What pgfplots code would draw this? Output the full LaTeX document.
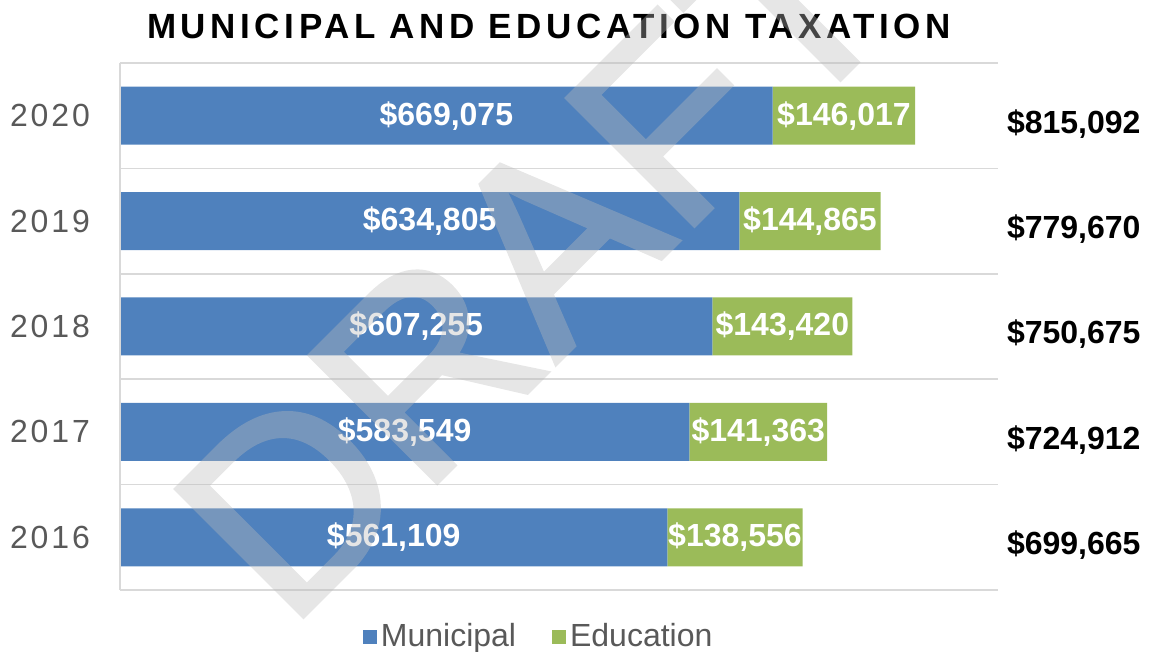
\documentclass[border=0pt]{standalone}
\usepackage{fontspec}
\setmainfont{Liberation Sans}
\usepackage{pgfplots}
\pgfplotsset{compat=1.18}
\usepackage{pgfplotstable}
\usetikzlibrary{calc}

\definecolor{muni}{HTML}{4F81BD}
\definecolor{edu}{HTML}{9BBB59}
\definecolor{gridc}{HTML}{D9D9D9}
\definecolor{txt}{HTML}{595959}
\definecolor{wm}{HTML}{BBBBBB}

% values in thousands of dollars
\pgfplotstableread{
year muni    edu     mlab    elab
2016 561.109 138.556 561,109 138,556
2017 583.549 141.363 583,549 141,363
2018 607.255 143.420 607,255 143,420
2019 634.805 144.865 634,805 144,865
2020 669.075 146.017 669,075 146,017
}\taxdata

\begin{document}
\begin{tikzpicture}
\begin{axis}[
  name=ax,
  scale only axis,
  width=439pt, height=263.5pt,
  xbar stacked, bar width=29pt,
  xmin=0, xmax=900,
  ymin=2015.5, ymax=2020.5,
  xtick=\empty,
  ytick={2016,2017,2018,2019,2020},
  minor ytick={2015.5,2016.5,2017.5,2018.5,2019.5,2020.5},
  yminorgrids=true,
  minor grid style={gridc, line width=0.75pt},
  major tick length=0pt, minor tick length=0pt,
  axis line style={draw=none},
  y tick label style={
    /pgf/number format/1000 sep={},
    /pgf/number format/assume math mode=true,
    font=\fontsize{16}{18}\selectfont\addfontfeature{LetterSpace=9},
    text=txt, xshift=-11.5pt},
  legend style={draw=none, at={(0.478,-0.089)}, anchor=center,
    legend columns=2, font=\fontsize{16}{18}\selectfont, text=txt,
    /tikz/every even column/.append style={column sep=16pt}},
  sq/.style={legend image code/.code={\fill[##1] (0pt,-3.5pt) rectangle (7pt,3.5pt);}},
  barlab/.style={point meta=explicit symbolic,
    nodes near coords={\$\pgfplotspointmeta},
    nodes near coords style={anchor=center, text=white,
      font=\bfseries\fontsize{16}{18}\selectfont}},
  clip=false,
]
\draw[gridc, line width=0.75pt] (rel axis cs:0,0) -- (rel axis cs:0,1);

% stacked labels land in the middle of each segment
\addplot[fill=muni, draw=none, sq, barlab]
  table[x=muni, y=year, meta=mlab] {\taxdata};
\addlegendentry{Municipal}

\addplot[fill=edu, draw=none, sq, barlab]
  table[x=edu, y=year, meta=elab] {\taxdata};
\addlegendentry{Education}

% totals, set in a column right of the plot area
\foreach \yr/\tl in {2016/{699,665}, 2017/{724,912}, 2018/{750,675}, 2019/{779,670}, 2020/{815,092}}{
  \edef\tmp{\noexpand\node[anchor=west, text=black,
    font=\noexpand\bfseries\noexpand\fontsize{16}{18}\noexpand\selectfont]
    at ([xshift=1pt,yshift=-4pt]axis cs:900,\yr) {\noexpand\$\tl};}
  \tmp
}
\end{axis}

% page frame in reference pixels, top left origin
\begin{scope}[shift={($(ax.south west)+(-60pt,295pt)$)}, x=0.5pt, y=-0.5pt]
  \node[anchor=base, font=\bfseries\fontsize{17.5}{20}\selectfont\addfontfeature{LetterSpace=13}]
    at (549,39) {MUNICIPAL AND EDUCATION TAXATION};
  \begin{scope}[transparency group, opacity=0.37]
    \node[anchor=base west, rotate=45, text=wm,
      font=\fontsize{131}{131}\selectfont\addfontfeature{FakeBold=1.6}, inner sep=0pt]
      at (288,632) {DRAFT};
  \end{scope}
  \pgfresetboundingbox
  \path[use as bounding box] (0,0) rectangle (1152,652);
\end{scope}
\end{tikzpicture}
\end{document}
